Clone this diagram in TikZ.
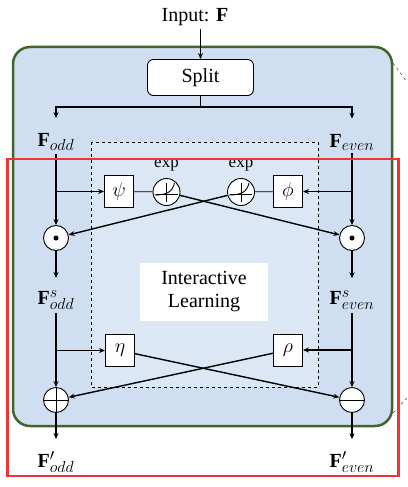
\RequirePackage{fix-cm}
\documentclass[tikz,border=0pt]{standalone}
\usepackage{fontspec}
\setmainfont{Liberation Serif}
\usetikzlibrary{arrows.meta,positioning}
\DeclareMathSizes{20}{20}{16}{12}
\definecolor{outerblue}{HTML}{CFDFF1}
\definecolor{innerblue}{HTML}{DBE7F5}
\definecolor{boxgreen}{HTML}{41642A}
\definecolor{framered}{HTML}{EE3535}
\tikzset{
  lbl/.style={inner sep=3pt,font=\fontsize{20}{24}\selectfont},
  fbox/.style={draw,fill=white,line width=0.9pt,minimum width=29pt,minimum height=32pt,inner sep=0pt,font=\fontsize{20}{24}\selectfont},
  op/.style={draw,circle,fill=white,line width=0.9pt,minimum size=25pt,inner sep=0pt},
  expop/.style={draw,circle,fill=white,line width=0.9pt,minimum size=27pt,inner sep=0pt},
  flow/.style={line width=1.4pt},
}
\newcommand{\expsign}[1]{%
  \draw[line width=0.7pt,shift={(#1.center)}] (-11,2) -- (11,2) (0,-9) -- (0,10);
  \draw[line width=0.9pt,shift={(#1.center)}] (-12,3) .. controls (0,3) and (6,0) .. (8,-9);}
\begin{document}
\begin{tikzpicture}[x=1pt,y=-1pt,>={Stealth[length=6pt,width=5pt]}]
	\useasboundingbox (0,0) rectangle (407,487);
	% outer block
	\draw[boxgreen,line width=2.5pt,fill=outerblue,rounded corners=17pt] (13,47) rectangle (392,426);
	\draw[boxgreen,dashed,line width=0.6pt] (393,63) -- (407,82);
	\draw[boxgreen,dashed,line width=0.6pt] (393,413) -- (407,398);
	% interactive learning area
	\draw[dashed,fill=innerblue,line width=0.8pt] (91,142) rectangle (318,387);
	\node[fill=white,minimum width=128pt,minimum height=58pt,align=center,font=\fontsize{20}{23}\selectfont] (il) at (204,292) {Interactive\\Learning};
	% input and split
	\node[lbl] (input) at (195,17) {Input: $\mathbf{F}$};
	\node[draw,fill=white,rounded corners=6pt,line width=0.9pt,minimum width=106pt,minimum height=36pt,font=\fontsize{20}{24}\selectfont] (split) at (200.5,77.5) {Split};
	\draw[flow,->] (input.south -| split.north) -- (split.north);
	\coordinate (fork) at (200.5,107);
	\node[lbl] (fodd) at (56,142) {$\mathbf{F}_{odd}$};
	\node[lbl] (feven) at (352,142) {$\mathbf{F}_{even}$};
	\draw[flow] (split) -- (fork);
	\draw[flow,->,shorten >=12pt] (fork) -| (fodd);
	\draw[flow,->,shorten >=12pt] (fork) -| (feven);
	% first interaction
	\node[fbox] (psi) at (119,191.5) {$\psi$};
	\node[expop] (expl) at (166.5,192) {};
	\node[expop] (expr) at (241,192) {};
	\node[fbox] (phi) at (288,191.5) {$\phi$};
	\node[font=\fontsize{17}{19}\selectfont] (expltxt) at (166.5,165) {exp};
	\node[font=\fontsize{17}{19}\selectfont] (exprtxt) at (241,165) {exp};
	\expsign{expl}
	\expsign{expr}
	\node[op] (dotl) at (56,238) {};
	\node[op] (dotr) at (352,238) {};
	\fill (dotl) circle (2.5);
	\fill (dotr) circle (2.5);
	\draw[flow,->] (fodd) -- (dotl);
	\draw[flow,->] (fodd |- psi) -- (psi);
	\draw[flow,->] (feven) -- (dotr);
	\draw[flow,->] (feven |- phi) -- (phi);
	\draw[line width=0.7pt] (psi) -- (expl);
	\draw[line width=0.7pt] (phi) -- (expr);
	\draw[flow,->] (expl) -- (dotr);
	\draw[flow,->] (expr) -- (dotl);
	% scaled features
	\node[lbl] (fsodd) at (56,300) {$\mathbf{F}^{s}_{odd}$};
	\node[lbl] (fseven) at (352,300) {$\mathbf{F}^{s}_{even}$};
	\draw[flow,->,shorten >=9pt] (dotl) -- (fsodd);
	\draw[flow,->,shorten >=9pt] (dotr) -- (fseven);
	% second interaction
	\node[fbox] (eta) at (120,350.5) {$\eta$};
	\node[fbox] (rho) at (288,350) {$\rho$};
	\node[op] (plus) at (56,400) {};
	\node[op] (minus) at (352,400) {};
	\draw[line width=1pt] (plus.west) -- (plus.east) (plus.north) -- (plus.south);
	\draw[line width=1pt] (minus.west) -- (minus.east);
	\draw[flow,->] (fsodd) -- (plus);
	\draw[flow,->] (fsodd |- eta) -- (eta);
	\draw[flow,->] (fseven) -- (minus);
	\draw[flow,->] (fseven |- rho) -- (rho);
	\draw[flow,->] (eta) -- (minus);
	\draw[flow,->] (rho) -- (plus);
	% outputs
	\node[lbl] (fpodd) at (56,462) {$\mathbf{F}'_{odd}$};
	\node[lbl] (fpeven) at (352,462) {$\mathbf{F}'_{even}$};
	\draw[flow,->,shorten >=9pt] (plus) -- (fpodd);
	\draw[flow,->,shorten >=9pt] (minus) -- (fpeven);
	% highlight frame
	\draw[framered,line width=2.5pt] (7.5,159) rectangle (398.5,476);
\end{tikzpicture}
\end{document}
